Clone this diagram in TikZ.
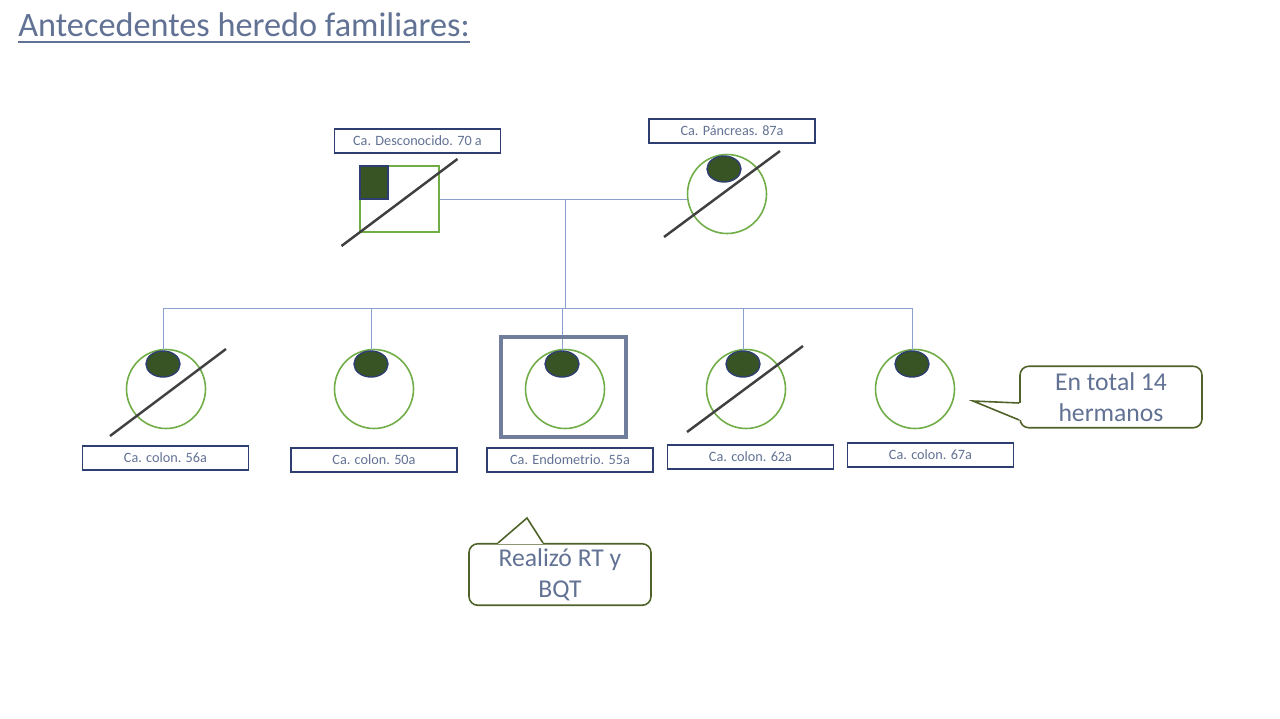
\documentclass[tikz,border=0pt]{standalone}
\usepackage{fontspec}
\setmainfont{Carlito}
\usetikzlibrary{calc, positioning, math}
\usetikzlibrary{shapes.geometric}
\definecolor{mytext}{RGB}{98,114,148}
\definecolor{mygreen}{RGB}{112,173,71}
\definecolor{mydark}{RGB}{56,84,36}
\definecolor{myblue}{RGB}{47,62,112}
\definecolor{mylink}{RGB}{140,160,205}
\definecolor{myframe}{RGB}{112,125,155}
\definecolor{myolive}{RGB}{79,98,40}

\tikzset{
  female/.style={circle, draw=mygreen, line width=0.9pt, minimum size=1.58cm, inner sep=0pt},
  male/.style={rectangle, draw=mygreen, line width=0.9pt, minimum width=1.58cm, minimum height=1.32cm, inner sep=0pt},
  marca/.style={ellipse, fill=mydark, draw=myblue, line width=0.8pt, minimum width=0.68cm, minimum height=0.52cm, inner sep=0pt},
  marcasq/.style={rectangle, fill=mydark, draw=myblue, line width=0.8pt, minimum width=0.56cm, minimum height=0.66cm, inner sep=0pt},
  etiqueta/.style={rectangle, draw=myblue, line width=0.8pt, minimum width=3.32cm, minimum height=0.48cm, inner sep=0pt, text=mytext, font=\fontsize{8.1}{10}\selectfont},
  caso/.style={rectangle, draw=myframe, line width=2pt, minimum width=2.5cm, minimum height=2cm},
  fallecido/.style={color=black!75, line width=1.4pt},
  linea/.style={color=mylink, line width=0.5pt},
  nota/.style={rectangle, rounded corners=5pt, draw=myolive, line width=0.9pt, text=mytext, font=\fontsize{14.6}{17.6}\selectfont, align=center, minimum width=3.64cm, minimum height=1.23cm, inner sep=0pt},
  titulo/.style={inner sep=0pt, text=mytext, font=\fontsize{19.5}{22}\selectfont}
}

\begin{document}
\begin{tikzpicture}[x=0.02cm, y=-0.02cm]
\tikzmath{
\dx=-3;% dot offset
\dy=-25;
}
\fill[white] (0,0) rectangle (1280,718);
\useasboundingbox (0,0) rectangle (1280,718);

%title
\node[titulo, anchor=base west] (titulo) at (18,36) {Antecedentes heredo familiares:};
\draw[color=mytext, line width=1pt] ($(titulo.base west)+(0,6)$) -- ($(titulo.base east)+(0,6)$);

%parents
\node[male] (padre) at (399.5,199) {};
\node[marcasq, anchor=north west] (m0) at (padre.north west) {};
\node[female] (madre) at (727,194) {};
\node[marca] (m1) at ($(madre)+(\dx,\dy)$) {};
\draw[fallecido] ($(padre)+(-58,47)$) -- ($(padre)+(58,-40)$);
\draw[fallecido] ($(madre)+(-63,43)$) -- ($(madre)+(53,-43)$);
\node[etiqueta] (epadre) at (417.5,141) {Ca. Desconocido. 70 a};
\node[etiqueta] (emadre) at (732,131) {Ca. Páncreas. 87a};

%couple and sibship lines
\coordinate (pareja) at (565,199);
\coordinate (sib) at (565,308);
\draw[linea] (padre.east) -- (padre.east -| madre.west);
\draw[linea] (pareja) -- (sib);

%children
\foreach \n/\x in {1/166,2/374,3/565,4/746,5/915}{
  \node[female] (h\n) at (\x,389) {};
  \node[marca] (d\n) at ($(h\n)+(\dx,\dy)$) {};
  \draw[linea] (d\n.north |- sib) -- (d\n.north);
}
\draw[linea] (d1.north |- sib) -- (d5.north |- sib);
\draw[fallecido] ($(h1)+(-56,47)$) -- ($(h1)+(60,-40)$);
\draw[fallecido] ($(h4)+(-59,43)$) -- ($(h4)+(57,-43)$);
\node[caso] (probando) at (563.5,387) {};

\foreach \n/\t/\x/\y in {1/Ca. colon. 56a/165.5/458, 2/Ca. colon. 50a/374/460,
  3/Ca. Endometrio. 55a/570/460, 4/Ca. colon. 62a/750.5/457, 5/Ca. colon. 67a/930.5/455}{
  \node[etiqueta] (e\n) at (\x,\y) {\t};
}

%notes
\node[nota] (total) at (1111,397) {En total 14\\hermanos};
\coordinate (ptotal) at (973,401);
\draw[white, line width=1.6pt] ($(total.west)+(0,6)$) -- ($(total.west)+(0,23)$);
\draw[color=myolive, line width=0.9pt] ($(total.west)+(0,6)$) -- (ptotal) -- ($(total.west)+(0,23)$);

\node[nota] (rt) at (560,574.5) {Realizó RT y\\BQT};
\coordinate (prt) at (527,518);
\draw[white, line width=1.6pt] ($(rt.north)+(-62,0)$) -- ($(rt.north)+(-17,0)$);
\draw[color=myolive, line width=0.9pt] ($(rt.north)+(-62,0)$) -- (prt) -- ($(rt.north)+(-17,0)$);

\end{tikzpicture}
\end{document}
